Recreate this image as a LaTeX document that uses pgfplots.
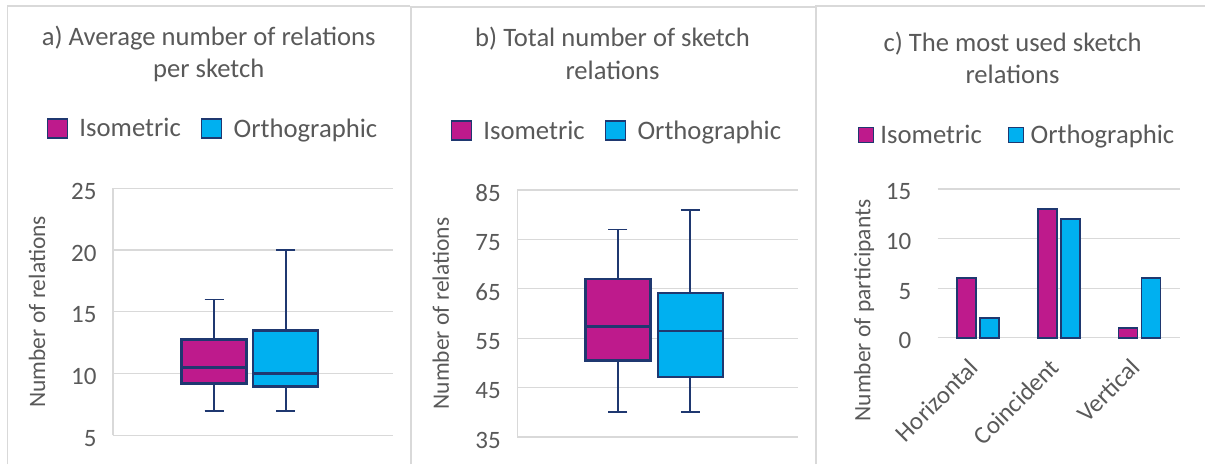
\documentclass[border=0pt]{standalone}
\usepackage{fontspec}
\setmainfont{Carlito}
\usepackage{pgfplots}
\pgfplotsset{compat=1.18}
\usepgfplotslibrary{statistics}
\definecolor{mag}{HTML}{BE1A8C}
\definecolor{cyanb}{HTML}{00B0F0}
\definecolor{navy}{HTML}{1F3870}
\definecolor{txt}{HTML}{595959}
\definecolor{gridc}{HTML}{D9D9D9}
\pgfplotsset{
  panel/.style={
    scale only axis, clip=false,
    axis lines*=left,
    axis line style={-, draw=gridc, line width=1.2pt},
    every inner x axis line/.append style={-},
    every inner y axis line/.append style={-},
    ymajorgrids, grid style={draw=gridc, line width=1.2pt},
    major tick length=0pt, xtick=\empty,
    tick label style={font=\fontsize{25}{30}\selectfont, text=txt},
    /pgf/number format/assume math mode=true,
    yticklabel style={xshift=-13pt, yshift=-3pt},
    legend style={draw=none, fill=none, font=\fontsize{26.7}{31}\selectfont, text=txt, anchor=center},
    legend columns=2,
    boxplot/draw direction=y,
    boxplot/every box/.append style={line width=2.4pt},
    boxplot/every whisker/.append style={line width=1.8pt},
    boxplot/every median/.append style={line width=2.4pt},
  },
  ylab/.style={every axis y label/.style={at={(axis description cs:#1)}, rotate=90, anchor=center, font=\fontsize{23.5}{28}\selectfont, text=txt}},
}
\begin{document}
\begin{tikzpicture}
\path[use as bounding box] (0pt,0pt) rectangle (1205pt,464pt);
% panel borders
\draw[gridc, line width=1.2pt] (7.3pt,0pt) -- (7.3pt,458pt) -- (410pt,458pt);
\draw[gridc, line width=2pt] (411pt,0pt) -- (411pt,457pt) -- (815pt,457pt);
\draw[gridc, line width=2pt] (815.5pt,0pt) -- (815.5pt,458pt) -- (1205pt,458pt);
% titles
\begin{scope}[every node/.style={anchor=base, font=\fontsize{26.6}{31}\selectfont, text=txt}]
\node at (208.7pt,418.3pt) {a) Average number of relations};
\node at (208.7pt,386.7pt) {per sketch};
\node at (612.5pt,417.3pt) {b) Total number of sketch};
\node at (612.5pt,384.7pt) {relations};
\node at (1012.5pt,412.3pt) {c) The most used sketch};
\node at (1012.5pt,380.7pt) {relations};
\end{scope}

% panel a
\begin{axis}[panel, at={(113pt,28.7pt)}, anchor=south west, width=280pt, height=247pt,
  xmin=0, xmax=1, ymin=5, ymax=25, ytick={5,10,15,20,25},
  ylabel={Number of relations}, ylab={-0.271,0.5},
  legend style={at={(axis description cs:0.357,1.242)}},
  legend image code/.code={\draw[#1] (0pt,-9.5pt) rectangle (20pt,9.5pt); \path[draw=none,fill=none] (0pt,0pt) rectangle (30pt,1pt);},
  /tikz/every even column/.append style={column sep=18pt}]
\addplot[forget plot, solid, draw=navy, fill=mag, line width=1.8pt,
  boxplot prepared={lower whisker=7, lower quartile=9.2, median=10.5,
  upper quartile=12.75, upper whisker=16, draw position=0.361,
  box extend=0.232, whisker extend=0.068}] coordinates {};
\addplot[forget plot, solid, draw=navy, fill=cyanb, line width=1.8pt,
  boxplot prepared={lower whisker=7, lower quartile=8.95, median=10,
  upper quartile=13.5, upper whisker=20, draw position=0.617,
  box extend=0.232, whisker extend=0.068}] coordinates {};
\addlegendimage{draw=navy, fill=mag, line width=1.6pt}
\addlegendentry{Isometric}
\addlegendimage{draw=navy, fill=cyanb, line width=1.6pt}
\addlegendentry{Orthographic}
\end{axis}

% panel b
\begin{axis}[panel, at={(517.3pt,27pt)}, anchor=south west, width=280.4pt, height=247pt,
  xmin=0, xmax=1, ymin=35, ymax=85, ytick={35,45,55,65,75,85},
  ylabel={Number of relations}, ylab={-0.273,0.5},
  legend style={at={(axis description cs:0.355,1.240)}},
  legend image code/.code={\draw[#1] (0pt,-9.5pt) rectangle (20pt,9.5pt); \path[draw=none,fill=none] (0pt,0pt) rectangle (30pt,1pt);},
  /tikz/every even column/.append style={column sep=18pt}]
\addplot[forget plot, solid, draw=navy, fill=mag, line width=1.8pt,
  boxplot prepared={lower whisker=40, lower quartile=50.5, median=57.4,
  upper quartile=67, upper whisker=77, draw position=0.3586,
  box extend=0.232, whisker extend=0.068}] coordinates {};
\addplot[forget plot, solid, draw=navy, fill=cyanb, line width=1.8pt,
  boxplot prepared={lower whisker=40, lower quartile=47.2, median=56.5,
  upper quartile=64.2, upper whisker=81, draw position=0.617,
  box extend=0.232, whisker extend=0.068}] coordinates {};
\addlegendimage{draw=navy, fill=mag, line width=1.6pt}
\addlegendentry{Isometric}
\addlegendimage{draw=navy, fill=cyanb, line width=1.6pt}
\addlegendentry{Orthographic}
\end{axis}

% panel c
\begin{axis}[panel, at={(937.7pt,126.3pt)}, anchor=south west, width=242.3pt, height=148.7pt,
  axis line style={draw=none},
  xmin=-0.5, xmax=2.5, ymin=0, ymax=15, ytick={0,5,10,15},
  yticklabel style={xshift=-10pt},
  xtick={0,1,2}, xticklabels={Horizontal,Coincident,Vertical},
  xticklabel style={rotate=45, anchor=east, xshift=-17.8pt, yshift=-15pt},
  ylabel={Number of participants}, ylab={-0.304,0.183},
  bar width=19pt,
  legend style={at={(axis description cs:0.327,1.363)}},
  legend image code/.code={\draw[#1] (0pt,-7.5pt) rectangle (15pt,7.5pt); \path[draw=none,fill=none] (0pt,0pt) rectangle (20pt,1pt);},
  /tikz/every even column/.append style={column sep=24pt}]
\addplot[forget plot, ybar, bar shift=-11.5pt, draw=navy, fill=mag, line width=1.6pt]
  coordinates {(0,6) (1,13) (2,1)};
\addplot[forget plot, ybar, bar shift=11.5pt, draw=navy, fill=cyanb, line width=1.6pt]
  coordinates {(0,2) (1,12) (2,6)};
\addlegendimage{draw=navy, fill=mag, line width=1.6pt}
\addlegendentry{Isometric}
\addlegendimage{draw=navy, fill=cyanb, line width=1.6pt}
\addlegendentry{Orthographic}
\end{axis}
\end{tikzpicture}
\end{document}
